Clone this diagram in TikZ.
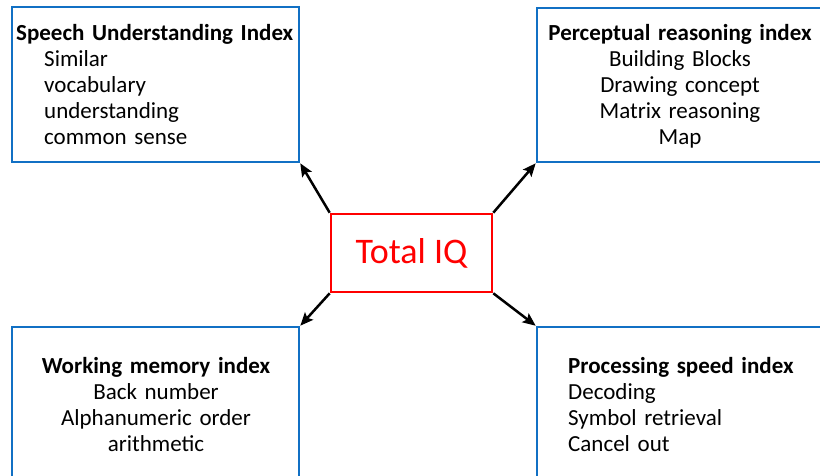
\documentclass[tikz,border=0pt]{standalone}
\usepackage{fontspec}
\setmainfont{Carlito}
\usetikzlibrary{arrows.meta}
\definecolor{boxblue}{HTML}{1170C4}
\tikzset{
  indexbox/.style={draw=boxblue, line width=2.6pt, rectangle, inner sep=0pt},
  iqbox/.style={draw=red, line width=2.6pt, rectangle, inner sep=0pt,
    minimum width=161pt, minimum height=78pt,
    font=\fontsize{36}{40}\selectfont, text=red},
  listtext/.style={inner sep=0pt, font=\fontsize{23}{26}\selectfont},
  link/.style={line width=2.5pt, -{Stealth[length=13pt,width=11pt,inset=2.5pt]}}
}
\begin{document}
\begin{tikzpicture}[x=1pt, y=-1pt]
\useasboundingbox (0,0) rectangle (820,475);

% four index boxes (right and bottom ones run past the edge)
\node[indexbox, minimum width=287pt, minimum height=155pt] (sui) at (155.5,84.5) {};
\node[indexbox, minimum width=293pt, minimum height=154pt] (pri) at (683.5,85) {};
\node[indexbox, minimum width=287pt, minimum height=170pt] (wmi) at (155.5,412) {};
\node[indexbox, minimum width=293pt, minimum height=170pt] (psi) at (683.5,412) {};

% centre box
\node[iqbox] (iq) at (411.5,253) {Total IQ};

% box contents
\node[listtext, anchor=base west, text width=290pt, align=left] (suit) at (16,40)
  {\textbf{Speech Understanding Index}\\
   \hspace*{28pt}Similar\\
   \hspace*{28pt}vocabulary\\
   \hspace*{28pt}understanding\\
   \hspace*{28pt}common sense};
\node[listtext, anchor=base, text width=290pt, align=center] (prit) at (680,40)
  {\textbf{Perceptual reasoning index}\\
   Building Blocks\\
   Drawing concept\\
   Matrix reasoning\\
   Map};
\node[listtext, anchor=base, text width=287pt, align=center] (wmit) at (156,373)
  {\textbf{Working memory index}\\
   Back number\\
   Alphanumeric order\\
   arithmetic};
\node[listtext, anchor=base west, text width=250pt, align=left] (psit) at (568,373)
  {\textbf{Processing speed index}\\
   Decoding\\
   Symbol retrieval\\
   Cancel out};

% connectors
\draw[link] (iq.north west) -- (sui.south east);
\draw[link] (iq.north east) -- (pri.south west);
\draw[link] (iq.south west) -- (wmi.north east);
\draw[link] (iq.south east) -- (psi.north west);
\end{tikzpicture}
\end{document}
